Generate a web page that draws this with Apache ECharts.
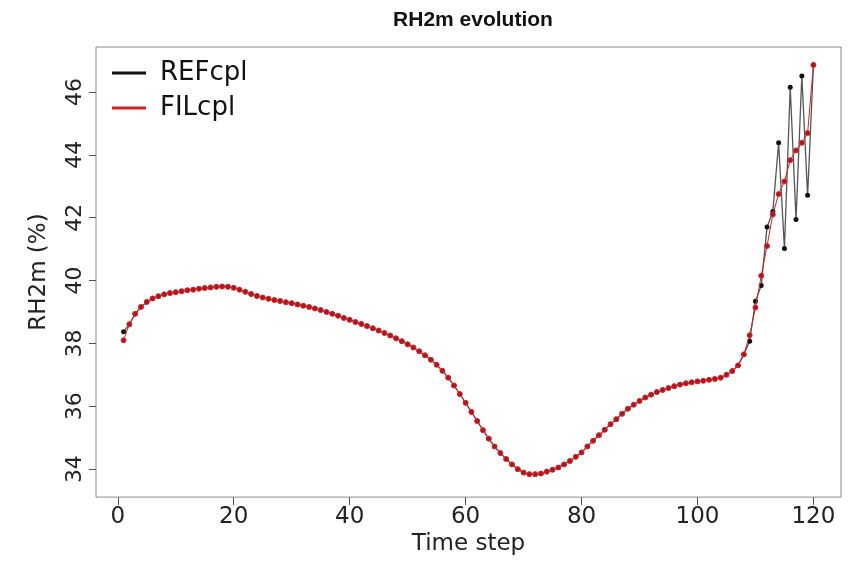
<!DOCTYPE html>
<html>
<head>
<meta charset="utf-8">
<script src="https://cdn.jsdelivr.net/npm/echarts@6/dist/echarts.min.js"></script>
<style>
html,body{margin:0;padding:0;background:#fff;}
#chart{width:851px;height:561px;}
</style>
</head>
<body>
<div id="chart"></div>
<script>
// ---- data ----
var timeSteps = [];
for (var i = 1; i <= 120; i++) timeSteps.push(i);

var filcpl = [
 38.10, 38.61, 38.94, 39.16, 39.32, 39.43, 39.50, 39.56, 39.60, 39.63,
 39.66, 39.69, 39.71, 39.74, 39.76, 39.78, 39.80, 39.81, 39.80, 39.77,
 39.71, 39.64, 39.57, 39.51, 39.46, 39.42, 39.38, 39.35, 39.31, 39.28,
 39.24, 39.20, 39.16, 39.11, 39.06, 39.00, 38.94, 38.88, 38.81, 38.75,
 38.68, 38.62, 38.55, 38.48, 38.41, 38.33, 38.25, 38.16, 38.07, 37.97,
 37.87, 37.75, 37.62, 37.48, 37.32, 37.13, 36.91, 36.66, 36.39, 36.11,
 35.82, 35.53, 35.24, 34.97, 34.72, 34.51, 34.32, 34.15, 34.00, 33.89,
 33.84, 33.84, 33.86, 33.92, 33.98, 34.05, 34.15, 34.26, 34.39, 34.53,
 34.72, 34.90, 35.08, 35.25, 35.43, 35.59, 35.76, 35.92, 36.05, 36.17,
 36.28, 36.37, 36.45, 36.52, 36.58, 36.64, 36.69, 36.73, 36.76, 36.79,
 36.81, 36.84, 36.87, 36.91, 37.00, 37.12, 37.30, 37.65, 38.26, 39.14,
 40.15, 41.10, 42.10, 42.75, 43.15, 43.83, 44.14, 44.38, 44.69, 46.86
];

var refcpl = [
 38.37, 38.61, 38.94, 39.16, 39.32, 39.43, 39.50, 39.56, 39.60, 39.63,
 39.66, 39.69, 39.71, 39.74, 39.76, 39.78, 39.80, 39.81, 39.80, 39.77,
 39.71, 39.64, 39.57, 39.51, 39.46, 39.42, 39.38, 39.35, 39.31, 39.28,
 39.24, 39.20, 39.16, 39.11, 39.06, 39.00, 38.94, 38.88, 38.81, 38.75,
 38.68, 38.62, 38.55, 38.48, 38.41, 38.33, 38.25, 38.16, 38.07, 37.97,
 37.87, 37.75, 37.62, 37.48, 37.32, 37.13, 36.91, 36.66, 36.39, 36.11,
 35.82, 35.53, 35.24, 34.97, 34.72, 34.51, 34.32, 34.15, 34.00, 33.89,
 33.84, 33.84, 33.86, 33.92, 33.98, 34.05, 34.15, 34.26, 34.39, 34.53,
 34.72, 34.90, 35.08, 35.25, 35.43, 35.59, 35.76, 35.92, 36.05, 36.17,
 36.28, 36.37, 36.45, 36.52, 36.58, 36.64, 36.69, 36.73, 36.76, 36.79,
 36.81, 36.84, 36.87, 36.91, 37.00, 37.12, 37.30, 37.65, 38.07, 39.34,
 39.84, 41.70, 42.20, 44.38, 41.02, 46.15, 41.94, 46.51, 42.71, 46.86
];

var xTicks = [0, 20, 40, 60, 80, 100, 120];
var yTicks = [34, 36, 38, 40, 42, 44, 46];

function pairs(xs, ys) { return xs.map(function (x, i) { return [x, ys[i]]; }); }

var chart = echarts.init(document.getElementById('chart'), null, {renderer: 'canvas'});
var font = 'DejaVu Sans';
chart.setOption({
  animation: false,
  backgroundColor: '#fff',
  title: {
    text: 'RH2m evolution',
    left: 468, top: 5, textAlign: 'center',
    textStyle: {fontFamily: 'Liberation Sans', fontWeight: 'bold', fontSize: 21, color: '#111'}
  },
  legend: {
    orient: 'vertical', left: 107, top: 55,
    icon: 'rect', itemWidth: 34, itemHeight: 3, itemGap: 9,
    textStyle: {fontFamily: font, fontSize: 26, color: '#111', padding: [0, 0, 0, 9]},
    data: [
      {name: 'REFcpl', itemStyle: {color: '#111', borderWidth: 0}},
      {name: 'FILcpl', itemStyle: {color: '#d42027', borderWidth: 0, borderColor: 'transparent'}}
    ]
  },
  grid: {
    left: 96, right: 10, top: 47, bottom: 63,
    show: true, borderColor: '#8a8a8a', borderWidth: 1, backgroundColor: 'transparent'
  },
  xAxis: {
    type: 'value', min: -3.76, max: 124.76,
    axisLine: {show: false, onZero: false},
    splitLine: {show: false},
    axisTick: {show: true, length: 8, customValues: xTicks, lineStyle: {color: '#555'}},
    axisLabel: {customValues: xTicks, fontFamily: font, fontSize: 23, color: '#222', margin: 8},
    name: 'Time step', nameLocation: 'middle', nameGap: 33,
    nameTextStyle: {fontFamily: font, fontSize: 23, color: '#222'}
  },
  yAxis: {
    type: 'value', min: 33.11, max: 47.43,
    axisLine: {show: false, onZero: false},
    splitLine: {show: false},
    axisTick: {show: true, length: 7, customValues: yTicks, lineStyle: {color: '#555'}},
    axisLabel: {customValues: yTicks, rotate: 90, fontFamily: font, fontSize: 22, color: '#222', margin: 10},
    name: 'RH2m (%)', nameLocation: 'middle', nameGap: 45, nameRotate: 90,
    nameTextStyle: {fontFamily: font, fontSize: 23, color: '#222'}
  },
  series: [
    {
      name: 'REFcpl', type: 'line', data: pairs(timeSteps, refcpl),
      symbol: 'circle', symbolSize: 5, showSymbol: true,
      lineStyle: {color: '#555', width: 1.3},
      itemStyle: {color: '#111'},
      z: 2
    },
    {
      name: 'FILcpl', type: 'line', data: pairs(timeSteps, filcpl),
      symbol: 'circle', symbolSize: 5, showSymbol: true,
      lineStyle: {color: '#d42027', width: 1},
      itemStyle: {color: '#a31a20', borderColor: '#e8262e', borderWidth: 1},
      z: 3
    }
  ]
});
</script>
</body>
</html>
